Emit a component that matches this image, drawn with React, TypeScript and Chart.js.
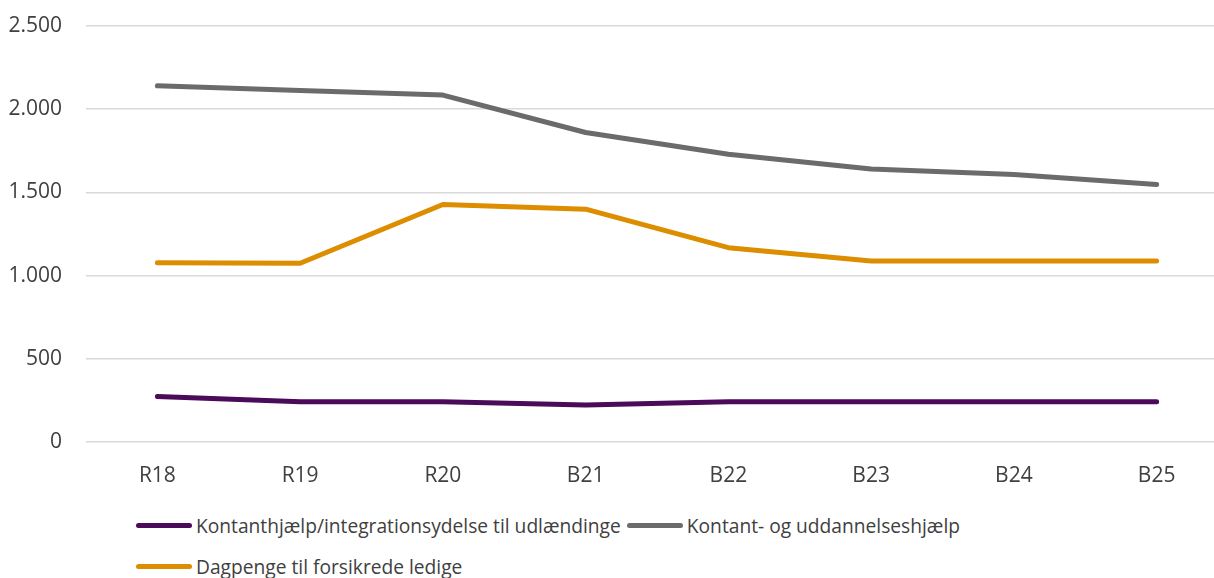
import React, { useEffect, useRef } from "react";
import { Chart, registerables } from "chart.js";

Chart.register(...registerables);

const categories = ["R18", "R19", "R20", "B21", "B22", "B23", "B24", "B25"];

const seriesNames = [
  "Kontanthjælp/integrationsydelse til udlændinge",
  "Kontant- og uddannelseshjælp",
  "Dagpenge til forsikrede ledige",
];

const integrationValues = [274, 242, 242, 222, 242, 242, 242, 242];
const kontantValues = [2141, 2113, 2085, 1860, 1729, 1641, 1607, 1547];
const dagpengeValues = [1077, 1074, 1427, 1399, 1168, 1088, 1088, 1088];

const seriesColors = ["#4b0a5a", "#6b6b6b", "#dd8d00"];

const yTicks = [0, 500, 1000, 1500, 2000, 2500];

const FONT = "'Open Sans', 'DejaVu Sans', sans-serif";
const TEXT = "#404040";

function fmt(v: number): string {
  return String(v).replace(/\B(?=(\d{3})+(?!\d))/g, ".");
}

export default function App() {
  const ref = useRef<HTMLCanvasElement | null>(null);

  useEffect(() => {
    if (!ref.current) return;
    const values = [integrationValues, kontantValues, dagpengeValues];
    const chart = new Chart(ref.current, {
      type: "line",
      data: {
        labels: categories,
        datasets: seriesNames.map((name, i) => ({
          label: name,
          data: values[i],
          borderColor: seriesColors[i],
          backgroundColor: seriesColors[i],
          borderWidth: 5,
          pointRadius: 0,
          pointHoverRadius: 0,
          tension: 0,
          borderCapStyle: "round" as const,
          borderJoinStyle: "round" as const,
          fill: false,
        })),
      },
      options: {
        responsive: false,
        animation: false,
        devicePixelRatio: 1,
        layout: { padding: { top: 26, left: 0, right: 0, bottom: 0 } },
        plugins: {
          legend: { display: false },
          tooltip: { enabled: false },
        },
        scales: {
          y: {
            min: yTicks[0],
            max: yTicks[yTicks.length - 1],
            afterFit: (s: any) => {
              s.width = 86;
              s.paddingTop = 0;
              s.paddingBottom = 0;
            },
            afterBuildTicks: (s: any) => {
              s.ticks = yTicks.map((v) => ({ value: v }));
            },
            ticks: {
              padding: 24,
              color: TEXT,
              font: { family: FONT, size: 21 },
              callback: (v: any) => fmt(Number(v)),
            },
            grid: { color: "#d9d9d9", lineWidth: 1.5, drawTicks: false },
            border: { display: false },
          },
          x: {
            offset: true,
            afterFit: (s: any) => {
              s.height = 48;
            },
            ticks: {
              padding: 21,
              color: TEXT,
              font: { family: FONT, size: 21 },
              maxRotation: 0,
            },
            grid: { display: false, drawTicks: false },
            border: { display: false },
          },
        },
      },
    });
    return () => chart.destroy();
  }, []);

  return (
    <div
      style={{
        position: "absolute",
        left: 0,
        top: 0,
        width: 1214,
        height: 578,
        overflow: "hidden",
        background: "#ffffff",
      }}
    >
      <canvas
        ref={ref}
        width={1228}
        height={490}
        style={{ position: "absolute", left: 0, top: 0, width: 1228, height: 490 }}
      />
      <div
        style={{
          position: "absolute",
          left: 136,
          top: 514,
          width: 850,
          display: "flex",
          flexWrap: "wrap",
          columnGap: 6,
          rowGap: 19,
          fontFamily: FONT,
          fontSize: 19.2,
          color: TEXT,
        }}
      >
        {seriesNames.map((name, i) => (
          <div
            key={name}
            style={{ display: "flex", alignItems: "center", height: 22, whiteSpace: "nowrap" }}
          >
            <span
              style={{
                display: "inline-block",
                width: 56,
                height: 5,
                borderRadius: 3,
                background: seriesColors[i],
                marginRight: 4,
              }}
            />
            <span>{name}</span>
          </div>
        ))}
      </div>
    </div>
  );
}
